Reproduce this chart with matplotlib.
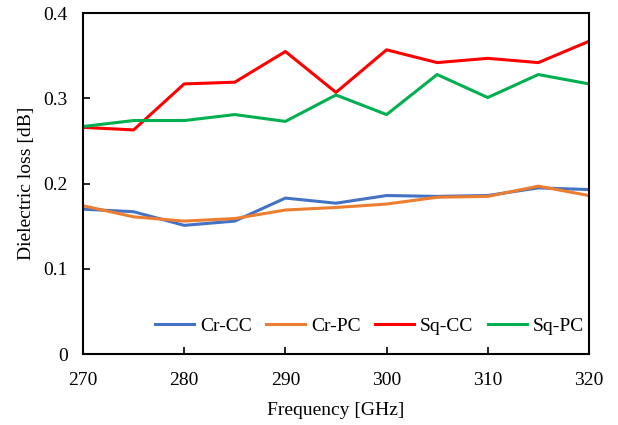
import matplotlib.pyplot as plt

freq = [270, 275, 280, 285, 290, 295, 300, 305, 310, 315, 320]
cr_cc = [0.170, 0.167, 0.151, 0.156, 0.183, 0.177, 0.186, 0.185, 0.186, 0.195, 0.193]
cr_pc = [0.174, 0.161, 0.156, 0.159, 0.169, 0.172, 0.176, 0.184, 0.185, 0.197, 0.186]
sq_cc = [0.266, 0.263, 0.317, 0.319, 0.355, 0.307, 0.357, 0.342, 0.347, 0.342, 0.367]
sq_pc = [0.267, 0.274, 0.274, 0.281, 0.273, 0.304, 0.281, 0.328, 0.301, 0.328, 0.317]

plt.rcParams['font.family'] = ['Liberation Serif', 'DejaVu Serif']

fig = plt.figure(figsize=(6.18, 4.25), dpi=100)
ax = fig.add_axes([0.1343, 0.167, 0.8187, 0.802])

ax.plot(freq, cr_cc, color='#4472C4', linewidth=2.2, label='Cr-CC')
ax.plot(freq, cr_pc, color='#ED7D31', linewidth=2.2, label='Cr-PC')
ax.plot(freq, sq_cc, color='#FF0000', linewidth=2.2, label='Sq-CC')
ax.plot(freq, sq_pc, color='#00B050', linewidth=2.2, label='Sq-PC')

ax.set_xlim(270, 320)
ax.set_ylim(0, 0.4)
ax.set_xticks([270, 280, 290, 300, 310, 320])
ax.set_yticks([0, 0.1, 0.2, 0.3, 0.4])
ax.set_yticklabels(['0', '0.1', '0.2', '0.3', '0.4'])
ax.tick_params(direction='in', length=5, width=1.2, labelsize=14, color='black')
ax.tick_params(axis='x', pad=13)
ax.tick_params(axis='y', pad=11)
for s in ax.spines.values():
    s.set_linewidth(1.5)

ax.set_xlabel('Frequency [GHz]', fontsize=14, labelpad=9)
ax.set_ylabel('Dielectric loss [dB]', fontsize=14, labelpad=6)

ax.legend(loc='center right', ncol=4, frameon=False, fontsize=14,
          handlelength=2.0, columnspacing=0.75, handletextpad=0.3,
          bbox_to_anchor=(0.99, 0.082), borderpad=0, borderaxespad=0)

fig.savefig('out.png', dpi=100)
